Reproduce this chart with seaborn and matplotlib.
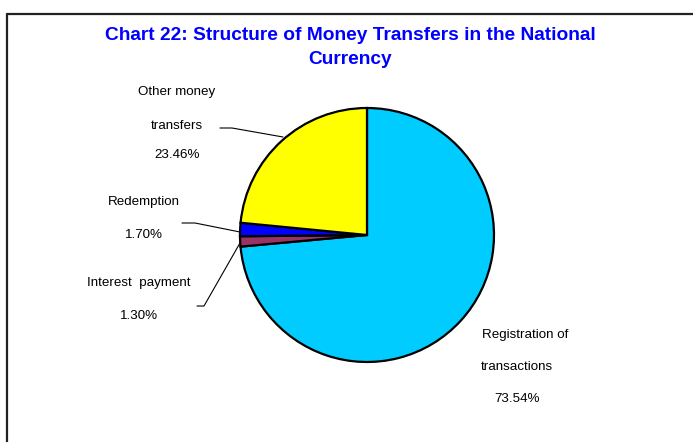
import matplotlib
matplotlib.use("Agg")
import matplotlib.pyplot as plt
import seaborn as sns

# data
labels = ["Registration of\ntransactions", "Interest  payment", "Redemption", "Other money\ntransfers"]
shares = [73.54, 1.30, 1.70, 23.46]
colors = ["#00CCFF", "#993366", "#0000FF", "#FFFF00"]

sns.set_theme(style="white")
plt.rcParams['font.family'] = ['Liberation Sans', 'DejaVu Sans']

W, H = 693, 442
fig = plt.figure(figsize=(W / 100, H / 100), dpi=100)
ax = fig.add_axes([0, 0, 1, 1])

# pie centred in pixel coordinates (y measured from bottom)
cx, cy, r = 367, H - 235, 127
ax.pie(shares, colors=colors, startangle=90, counterclock=False,
       center=(cx, cy), radius=r, frame=True,
       wedgeprops=dict(edgecolor="black", linewidth=1.6))
ax.set_xlim(0, W)
ax.set_ylim(0, H)
ax.axis("off")
ax.set_aspect("auto")

# outer frame (only top and left edge visible)
ax.plot([7, W], [H - 14, H - 14], color="#222222", lw=1.6, clip_on=False)
ax.plot([7, 7], [H - 14, 0], color="#222222", lw=1.6, clip_on=False)

# title
ax.text(350, H - 35, "Chart 22: Structure of Money Transfers in the National",
        ha="center", va="center", fontsize=13.8, fontweight="bold", color="#0000FF")
ax.text(350, H - 60, "Currency", ha="center", va="center",
        fontsize=13.8, fontweight="bold", color="#0000FF")

fs = 9.6
def lab(x, y, s):
    ax.text(x, H - y, s, ha="center", va="center", fontsize=fs, color="black")

# Other money transfers
lab(177, 92, "Other money")
lab(177, 126, "transfers")
lab(177, 155, f"{shares[3]:.2f}%")
ax.plot([220, 232, 283], [H - 128, H - 128, H - 137], color="black", lw=0.8)

# Redemption
lab(144, 202, labels[2])
lab(144, 235, f"{shares[2]:.2f}%")
ax.plot([182, 195, 240], [H - 223, H - 223, H - 232], color="black", lw=0.8)

# Interest payment
lab(139, 283, labels[1])
lab(139, 316, f"{shares[1]:.2f}%")
ax.plot([197, 204, 240], [H - 306, H - 306, H - 243], color="black", lw=0.8)

# Registration of transactions
lab(525, 335, "Registration of")
lab(517, 367, "transactions")
lab(517, 399, f"{shares[0]:.2f}%")

fig.savefig("out.png", dpi=100)
